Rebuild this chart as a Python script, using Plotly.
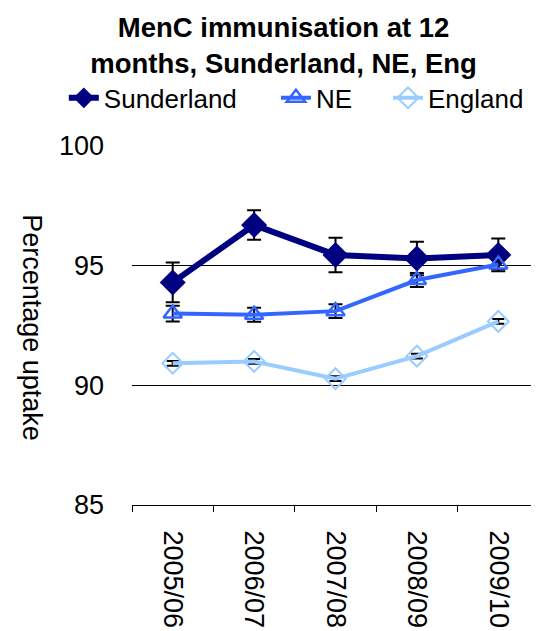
import plotly.graph_objects as go

years = ["2005/06", "2006/07", "2007/08", "2008/09", "2009/10"]
sunderland = [94.3, 96.7, 95.45, 95.3, 95.45]
sunderland_err = [0.83, 0.62, 0.72, 0.7, 0.68]
ne = [93.0, 92.95, 93.1, 94.4, 95.05]
ne_err = [0.33, 0.29, 0.29, 0.29, 0.2]
england = [90.92, 91.0, 90.28, 91.22, 92.67]
england_err = [0.1, 0.1, 0.1, 0.1, 0.1]

FONT = "Arial, Liberation Sans, sans-serif"

fig = go.Figure()
fig.add_trace(go.Scatter(
    x=years, y=sunderland, name="Sunderland", mode="lines+markers", legend="legend",
    line=dict(color="#000080", width=6),
    marker=dict(symbol="diamond", size=20, color="#000080"),
    error_y=dict(type="data", array=sunderland_err, color="black", thickness=2, width=7),
))
fig.add_trace(go.Scatter(
    x=years, y=ne, name="NE", mode="lines+markers", legend="legend2",
    line=dict(color="#3366FF", width=4),
    marker=dict(symbol="triangle-up-open", size=16, color="#3366FF", line=dict(width=2.5, color="#3366FF")),
    error_y=dict(type="data", array=ne_err, color="black", thickness=2, width=7),
))
fig.add_trace(go.Scatter(
    x=years, y=england, name="England", mode="lines+markers", legend="legend3",
    line=dict(color="#99CCFF", width=4),
    marker=dict(symbol="diamond-open", size=16, color="#99CCFF", line=dict(width=2, color="#99CCFF")),
    error_y=dict(type="data", array=england_err, color="black", thickness=2, width=6),
))

leg_common = dict(orientation="h", yanchor="middle", y=1.134, xanchor="left",
                  font=dict(family=FONT, size=26, color="black"),
                  bgcolor="rgba(0,0,0,0)", borderwidth=0)

fig.update_layout(
    width=531, height=623,
    margin=dict(l=124, r=0, t=138, b=126),
    paper_bgcolor="white", plot_bgcolor="white",
    font=dict(family=FONT, size=27, color="black"),
    title=dict(
        text="<b>MenC immunisation at 12<br>months, Sunderland, NE, Eng</b>",
        x=0.519, xanchor="center", y=1 - 29 / 623, yanchor="top",
        font=dict(family=FONT, size=27.5, color="black"),
    ),
    showlegend=True,
    legend=dict(x=-0.1675, **leg_common),
    legend2=dict(x=0.3537, **leg_common),
    legend3=dict(x=0.629, **leg_common),
    xaxis=dict(
        type="category", showgrid=False, showline=True, linecolor="black", linewidth=1,
        ticks="outside", tickson="boundaries", ticklen=6, tickcolor="black",
        tickangle=90, ticklabelstandoff=19, range=[-0.5, 4.5],
        tickfont=dict(family=FONT, size=27, color="black"),
    ),
    yaxis=dict(
        range=[85, 100], tickvals=[85, 90, 95, 100], showgrid=True, gridcolor="black",
        gridwidth=1, zeroline=False, showline=False, ticks="",
        ticklabelstandoff=27,
        tickfont=dict(family=FONT, size=27, color="black"),
    ),
    annotations=[dict(
        text="Percentage uptake", textangle=90, xref="paper", yref="paper",
        x=-0.246, y=0.493, xanchor="center", yanchor="middle", showarrow=False,
        font=dict(family=FONT, size=27, color="black"),
    )],
)

fig.write_html("out.html")
